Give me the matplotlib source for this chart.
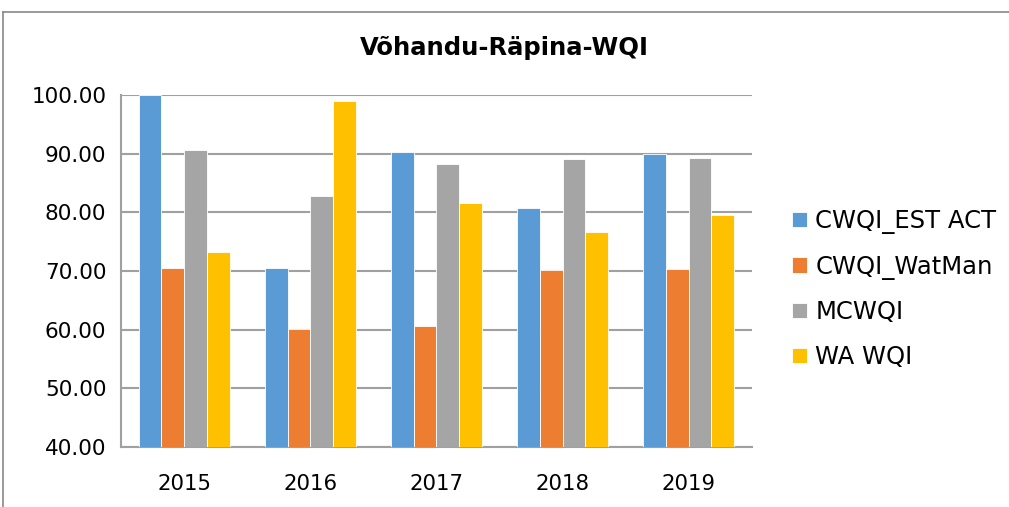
import matplotlib.pyplot as plt
import numpy as np
from matplotlib.lines import Line2D

years = ["2015", "2016", "2017", "2018", "2019"]
series = ["CWQI_EST ACT", "CWQI_WatMan", "MCWQI", "WA WQI"]
cwqi_est = [100.0, 70.5, 90.2, 80.7, 90.0]
cwqi_watman = [70.5, 60.2, 60.7, 70.2, 70.3]
mcwqi = [90.6, 82.8, 88.3, 89.0, 89.3]
wa_wqi = [73.3, 98.9, 81.5, 76.6, 79.6]
colors = ["#5b9bd5", "#ed7d31", "#a5a5a5", "#ffc000"]

fig = plt.figure(figsize=(10.09, 5.07), dpi=100)
ax = fig.add_axes([0.12, 0.118, 0.625, 0.695])

x = np.arange(len(years))
w = 0.18
for i, (vals, name) in enumerate(zip([cwqi_est, cwqi_watman, mcwqi, wa_wqi], series)):
    ax.bar(x + (i - 1.5) * w, vals, w, color=colors[i], label=name,
           edgecolor="white", linewidth=0.6, zorder=3)

ax.set_ylim(40, 100)
ax.set_xlim(-0.5, 4.5)
ax.set_yticks(range(40, 101, 10))
ax.set_yticklabels([f"{v:.2f}" for v in range(40, 101, 10)], fontsize=15.5)
ax.set_xticks(x)
ax.set_xticklabels(years, fontsize=15.3)
ax.tick_params(axis="y", length=0, pad=10.5)
ax.tick_params(axis="x", length=0, pad=19)
ax.grid(axis="y", color="#a0a0a0", linewidth=1.5, zorder=0)
for s in ["top", "right"]:
    ax.spines[s].set_visible(False)
for s in ["left", "bottom"]:
    ax.spines[s].set_color("#a0a0a0")
    ax.spines[s].set_linewidth(1.5)

fig.text(0.5, 0.905, "Võhandu-Räpina-WQI", ha="center", va="center",
         fontsize=17.5, fontweight="bold")

ax.legend(loc="center left", bbox_to_anchor=(0.785, 0.43), bbox_transform=fig.transFigure,
          frameon=False, fontsize=17.5, handlelength=0.6, handleheight=0.6,
          handletextpad=0.35, labelspacing=0.85, borderaxespad=0, borderpad=0)

# outer chart border
fig.add_artist(Line2D([0.003, 0.003], [0.0, 0.976], color="#888888", linewidth=1.2))
fig.add_artist(Line2D([0.003, 1.0], [0.976, 0.976], color="#888888", linewidth=1.2))

fig.savefig("out.png", dpi=100)
